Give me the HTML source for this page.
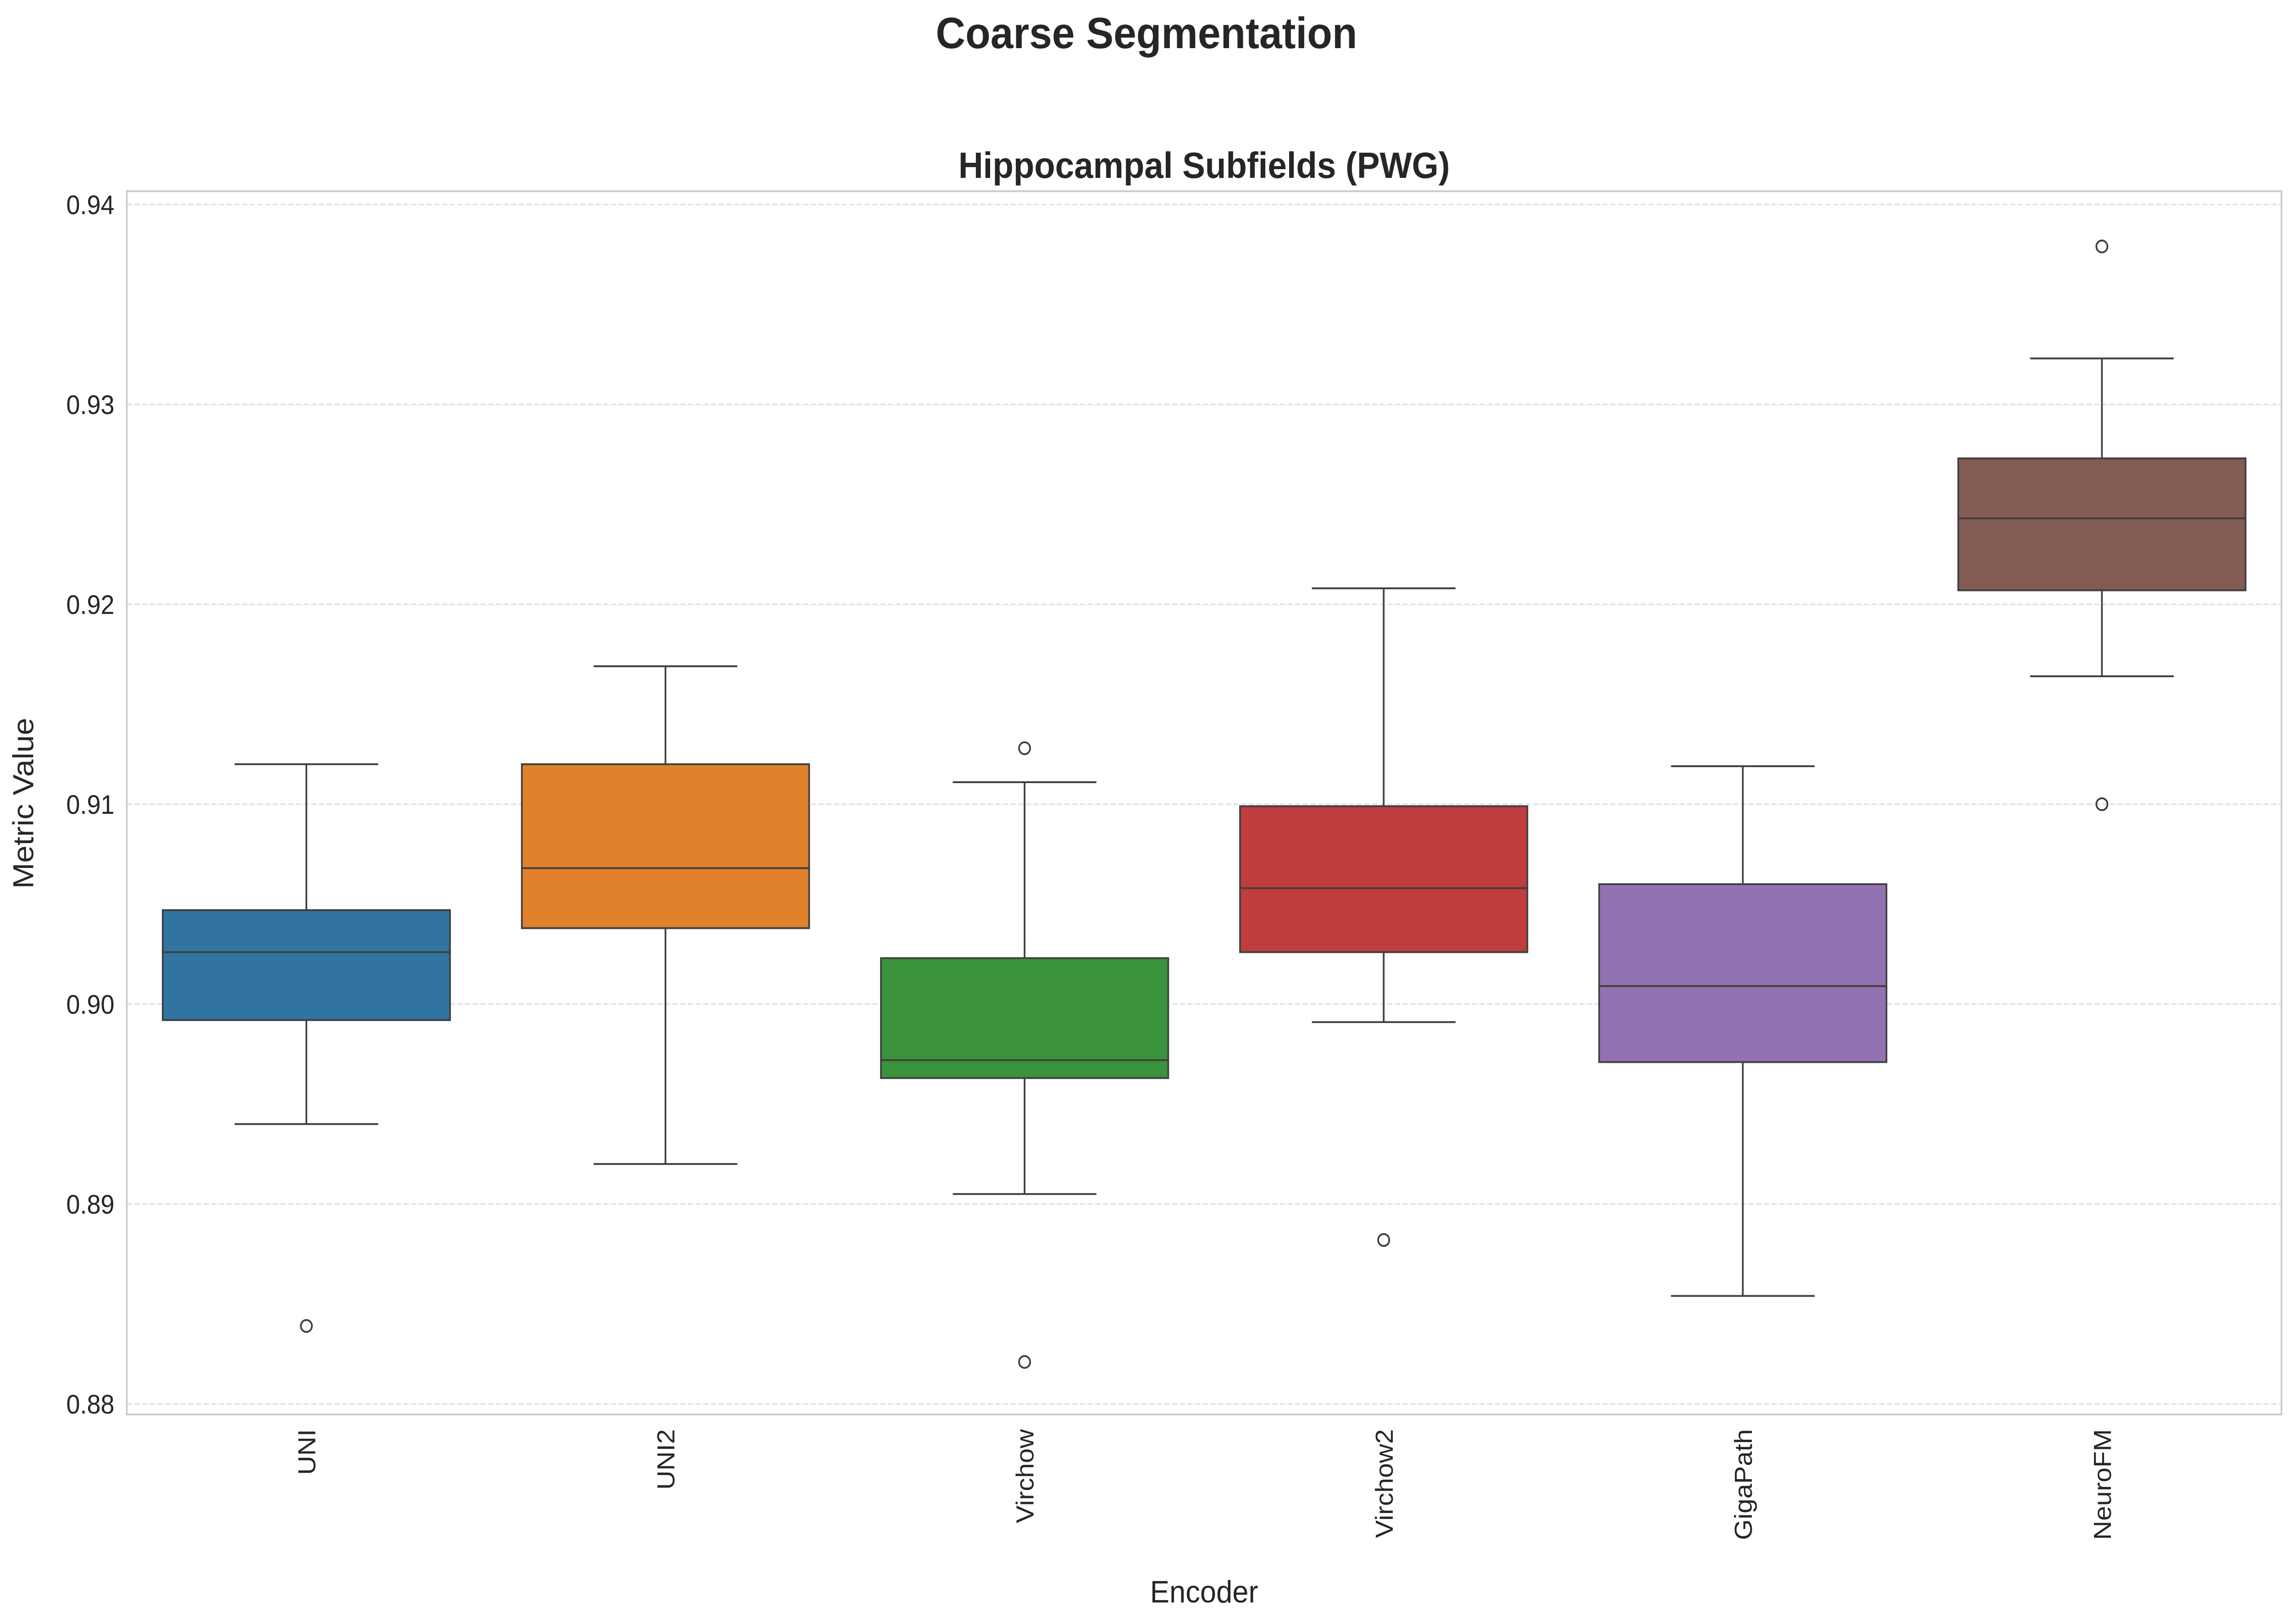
<!DOCTYPE html>
<html><head><meta charset="utf-8"><style>
html,body{margin:0;padding:0;background:#fff;width:100%;height:100%;overflow:hidden;}
svg{display:block;width:100vw;height:100vh;font-family:"Liberation Sans","DejaVu Sans",sans-serif;}
</style></head><body>
<svg id="chart" viewBox="0 0 5370 3542" preserveAspectRatio="none" xmlns="http://www.w3.org/2000/svg">
<rect width="5370" height="3542" fill="#fff"/>
<text x="2685" y="105" text-anchor="middle" font-size="96" font-weight="bold" fill="#262626">Coarse Segmentation</text>
<text x="2820" y="388" text-anchor="middle" font-size="80" font-weight="bold" fill="#262626">Hippocampal Subfields (PWG)</text>
<g id="grid"></g>
<g id="marks"></g>
<rect x="297" y="417" width="5046" height="2668" fill="none" stroke="#cccccc" stroke-width="4"/>
<g id="ticks"></g>
<text transform="translate(78,1752) rotate(-90)" text-anchor="middle" font-size="68" fill="#262626">Metric Value</text>
<text x="2820" y="3495" text-anchor="middle" font-size="68" fill="#262626">Encoder</text>
</svg>
<script>
const categories=["UNI","UNI2","Virchow","Virchow2","GigaPath","NeuroFM"];
const whiskerLow=[0.8940,0.8920,0.8905,0.8991,0.8854,0.9164];
const q1=[0.8992,0.9038,0.8963,0.9026,0.8971,0.9207];
const medians=[0.9026,0.9068,0.8972,0.9058,0.9009,0.9243];
const q3=[0.9047,0.9120,0.9023,0.9099,0.9060,0.9273];
const whiskerHigh=[0.9120,0.9169,0.9111,0.9208,0.9119,0.9323];
const outliers=[[0.8839],[],[0.9128,0.8821],[0.8882],[],[0.9379,0.9100]];
const yTicks=[0.88,0.89,0.90,0.91,0.92,0.93,0.94];
const yTickLabels=["0.88","0.89","0.90","0.91","0.92","0.93","0.94"];
const colors=["#3274a1","#e1812c","#3a923a","#c03d3e","#9372b2","#845b53"];
const NS="http://www.w3.org/2000/svg";
const L=297,R=5343;
function yScale(v){return 446+(0.94-v)/0.06*(3062-446);}
const band=(R-L)/categories.length;
function xScale(i){return L+band*(i+0.5);}
function mk(tag,attrs,parent){const e=document.createElementNS(NS,tag);for(const k in attrs)e.setAttribute(k,attrs[k]);parent.appendChild(e);return e;}
const grid=document.getElementById('grid'),marks=document.getElementById('marks'),ticks=document.getElementById('ticks');
yTicks.forEach((t,i)=>{
  const y=yScale(t);
  const g=mk('line',{x1:L,x2:R,y1:y,y2:y,stroke:'#dddddd','stroke-width':3,'stroke-dasharray':'12,6'},grid);
  
  
  const tx=mk('text',{x:268,y:y+21,'text-anchor':'end','font-size':58,fill:'#262626'},ticks);
  tx.textContent=yTickLabels[i];
  
  
});
const bw=band*0.8,cw=bw/2,lc='#3f3f3f';
categories.forEach((c,i)=>{
  const cx=xScale(i);
  const g=mk('g',{},marks);
  
  
  mk('line',{x1:cx,x2:cx,y1:yScale(whiskerHigh[i]),y2:yScale(q3[i]),stroke:lc,'stroke-width':4},g);
  mk('line',{x1:cx,x2:cx,y1:yScale(q1[i]),y2:yScale(whiskerLow[i]),stroke:lc,'stroke-width':4},g);
  mk('line',{x1:cx-cw/2,x2:cx+cw/2,y1:yScale(whiskerHigh[i]),y2:yScale(whiskerHigh[i]),stroke:lc,'stroke-width':4},g);
  mk('line',{x1:cx-cw/2,x2:cx+cw/2,y1:yScale(whiskerLow[i]),y2:yScale(whiskerLow[i]),stroke:lc,'stroke-width':4},g);
  mk('rect',{x:cx-bw/2,y:yScale(q3[i]),width:bw,height:yScale(q1[i])-yScale(q3[i]),fill:colors[i],stroke:lc,'stroke-width':4},g);
  mk('line',{x1:cx-bw/2,x2:cx+bw/2,y1:yScale(medians[i]),y2:yScale(medians[i]),stroke:lc,'stroke-width':4},g);
  outliers[i].forEach(o=>{
    const p=mk('circle',{cx:cx,cy:yScale(o),r:13,fill:'none',stroke:lc,'stroke-width':4},g);
    
    
  });
  const t=mk('text',{transform:`translate(${cx+21},3117) rotate(-90)`,'text-anchor':'end','font-size':58,fill:'#262626'},ticks);
  t.textContent=c;
  
  
});
</script>
</body></html>
